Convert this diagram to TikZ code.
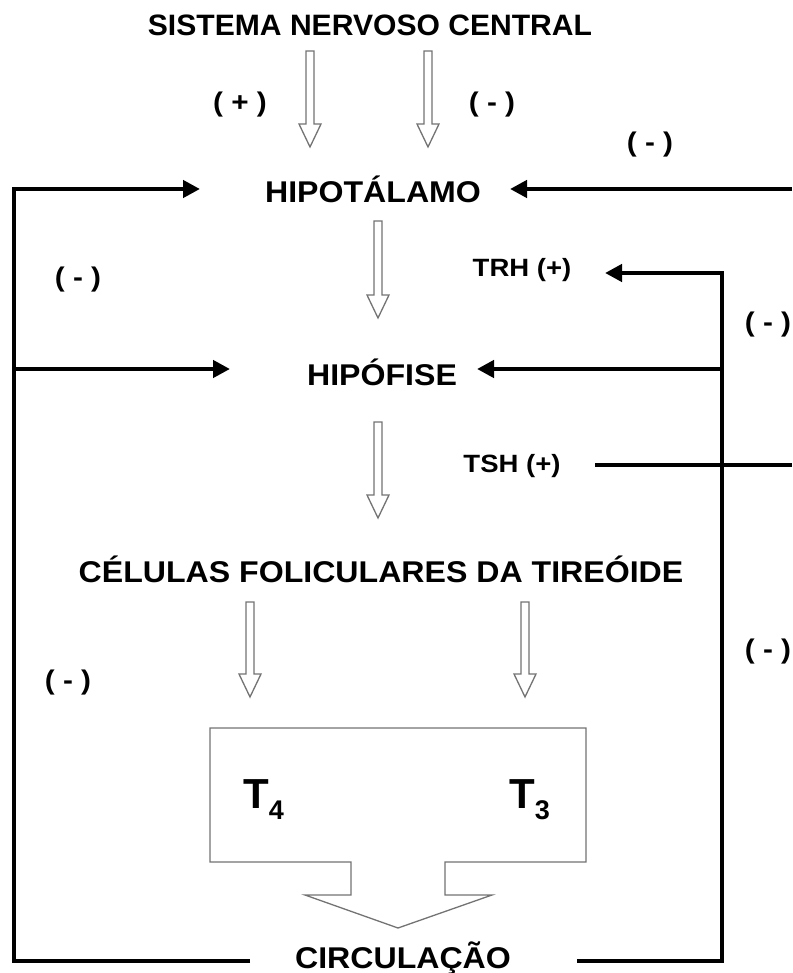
\documentclass[tikz,border=0pt]{standalone}
\usepackage{fontspec}
\setmainfont{Liberation Sans}
\usetikzlibrary{arrows.meta}

% horizontally widened text, as in the slide lettering
\newcommand{\stretchtext}[2][1.07]{\scalebox{#1}[1]{#2}}

% hollow downward block arrow: x, top of shaft, tip
\newcommand{\hollowdown}[3]{%
  \draw[hollow] (#1-4,#2) -- (#1+4,#2) -- (#1+4,#3-23) -- (#1+11,#3-23)
    -- (#1,#3) -- (#1-11,#3-23) -- (#1-4,#3-23) -- cycle;}

\tikzset{
  organ/.style={font=\bfseries\fontsize{30}{30}\selectfont, inner sep=0pt},
  title/.style={font=\bfseries\fontsize{29.5}{29.5}\selectfont, inner sep=0pt},
  hormone/.style={font=\bfseries\fontsize{25}{25}\selectfont, inner sep=0pt},
  sign/.style={font=\bfseries\fontsize{27}{27}\selectfont, inner sep=0pt},
  thyro/.style={font=\bfseries\fontsize{42}{42}\selectfont, inner sep=0pt, anchor=base west},
  hollow/.style={draw=black!55, line width=1.3pt, fill=white, line join=miter},
  feedback/.style={line width=4.5pt, -{Triangle[length=17pt,width=17pt]}},
  plainline/.style={line width=4.5pt},
}

\begin{document}
\begin{tikzpicture}[x=1pt, y=-1pt]
\useasboundingbox (0,0) rectangle (792,973);

% ---- main labels ----
\node[title] (snc)   at (370,25)  {\stretchtext[1.02]{SISTEMA NERVOSO CENTRAL}};
\node[organ] (hipo)  at (373,189) {\stretchtext{HIPOTÁLAMO}};
\node[organ] (hipof) at (382,372) {\stretchtext{HIPÓFISE}};
\node[organ] (cel)   at (381,569) {\stretchtext{CÉLULAS FOLICULARES DA TIREÓIDE}};
\node[organ] (circ)  at (403,958) {\stretchtext{CIRCULAÇÃO}};

\node[hormone] (trh) at (522,270) {\stretchtext[1.1]{TRH (+)}};
\node[hormone] (tsh) at (512,466) {\stretchtext[1.1]{TSH (+)}};

% ---- signs ----
\node[sign] (s1) at (240,105) {\stretchtext[1.1]{( + )}};
\node[sign] (s2) at (492,105) {\stretchtext[1.1]{( - )}};
\node[sign] (s3) at (650,145) {\stretchtext[1.1]{( - )}};
\node[sign] (s4) at (78,280)  {\stretchtext[1.1]{( - )}};
\node[sign] (s5) at (768,325) {\stretchtext[1.1]{( - )}};
\node[sign] (s6) at (68,683)  {\stretchtext[1.1]{( - )}};
\node[sign] (s7) at (768,652) {\stretchtext[1.1]{( - )}};

% ---- hollow arrows ----
\hollowdown{310}{51}{147}
\hollowdown{428}{51}{147}
\hollowdown{378}{221}{318}
\hollowdown{378}{422}{518}
\hollowdown{250}{602}{697}
\hollowdown{525}{602}{697}

% ---- hormone box with outlet arrow ----
\draw[hollow] (210,728) -- (586,728) -- (586,862) -- (445,862) -- (445,895)
  -- (492,895) -- (398,928) -- (305,895) -- (351,895) -- (351,862)
  -- (210,862) -- cycle;
\node[thyro] (t4) at (243,808) {T\raisebox{-11pt}{\fontsize{27}{27}\selectfont 4}};
\node[thyro] (t3) at (509,808) {T\raisebox{-11pt}{\fontsize{27}{27}\selectfont 3}};

% ---- feedback connectors ----
\coordinate (rtop)   at (792,189);
\coordinate (hipoR)  at (510,189);
\coordinate (hipoL)  at (200,189);
\coordinate (lbot)   at (250,961);
\coordinate (lcorn)  at (14,961);
\coordinate (lmid)   at (14,369);
\coordinate (hipfL)  at (230,369);
\coordinate (rbot)   at (577,961);
\coordinate (rcorn)  at (722,961);
\coordinate (rtrh)   at (722,273);
\coordinate (trhR)   at (605,273);
\coordinate (rmid)   at (722,369);
\coordinate (hipfR)  at (477,369);
\coordinate (tshL)   at (595,465);
\coordinate (tshR)   at (792,465);

\draw[feedback] (rtop) -- (hipoR);
\draw[feedback] (lbot) -- (lcorn) |- (hipoL);
\draw[feedback] (lmid) -- (hipfL);
\draw[feedback] (rbot) -- (rcorn) |- (trhR);
\draw[feedback] (rmid) -- (hipfR);
\draw[plainline] (tshL) -- (tshR);
\end{tikzpicture}
\end{document}
